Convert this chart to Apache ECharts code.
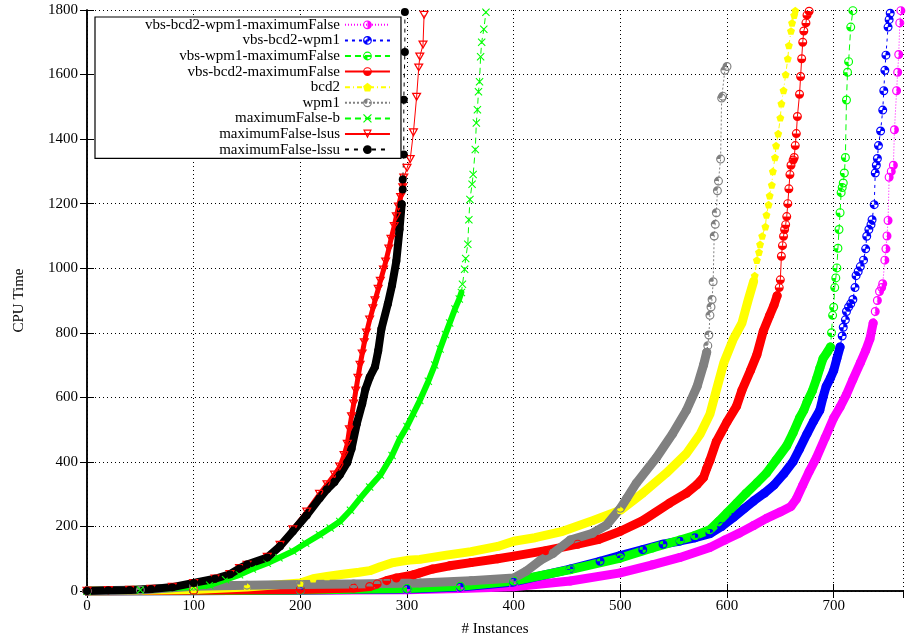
<!DOCTYPE html>
<html>
<head>
<meta charset="utf-8">
<script src="https://cdn.jsdelivr.net/npm/echarts@6/dist/echarts.min.js"></script>
<style>html,body{margin:0;padding:0;background:#fff;}#chart{width:906px;height:642px;}</style>
</head>
<body>
<div id="chart"></div>
<script>
// ---------- data (instance index, CPU time) ----------
const seriesNames = ['vbs-bcd2-wpm1-maximumFalse','vbs-bcd2-wpm1','vbs-wpm1-maximumFalse','vbs-bcd2-maximumFalse','bcd2','wpm1','maximumFalse-b','maximumFalse-lsus','maximumFalse-lssu'];
const xTicks = [0,100,200,300,400,500,600,700];
const yTicks = [0,200,400,600,800,1000,1200,1400,1600,1800];
const xMax = 765;

const magentaBody = [[0,0],[100,1],[200,2],[300,4],[350,8],[400,13],[453,31],[500,56],[530,81],[556,104],[584,135],[598,158],[612,180],[625,203],[637,225],[650,245],[660,262],[665,285],[671,328],[677,370],[684,414],[692,475],[700,536],[706,570],[712,609],[718,655],[725,707],[730,745],[734,781],[737,830]];
const magentaTail = [[739,866],[741,900],[743,928],[745,940],[746,952],[748,1025],[749,1060],[750,1100],[751,1148],[752,1282],[754,1300],[756,1319],[757,1429],[759,1550],[760,1607],[761,1662],[762,1760],[763,1798]];

const blueBody = [[0,0],[100,1],[200,3],[300,6],[350,12],[400,28],[453,68],[481,92],[500,110],[521,128],[540,145],[556,155],[570,165],[584,178],[595,200],[606,228],[616,255],[625,279],[635,303],[644,328],[653,362],[662,401],[668,440],[675,487],[681,525],[687,560],[690,600],[693,634],[697,660],[700,683],[703,720],[706,756]];
const blueTail = [[708,790],[709,817],[711,840],[712,866],[714,880],[716,890],[718,903],[720,940],[721,977],[723,990],[725,1005],[728,1025],[730,1060],[731,1099],[733,1120],[735,1135],[736,1150],[738,1197],[739,1295],[740,1319],[741,1340],[742,1380],[744,1425],[746,1490],[747,1550],[748,1613],[749,1660],[751,1747],[752,1770],[753,1790]];

const greenBody = [[0,0],[100,1],[200,3],[300,8],[350,15],[400,31],[453,66],[500,102],[530,133],[556,158],[570,172],[584,190],[592,215],[600,242],[609,272],[618,303],[628,335],[637,365],[646,405],[656,450],[662,490],[668,536],[672,560],[675,585],[680,620],[684,658],[687,690],[690,720],[694,740],[697,756]];
const greenTail = [[698,800],[699,854],[700,879],[701,940],[702,970],[703,1001],[704,1062],[705,1120],[706,1172],[707,1234],[708,1250],[709,1264],[710,1295],[711,1343],[712,1521],[713,1607],[714,1640],[716,1747],[718,1798]];

const redBody = [[0,0],[100,2],[200,5],[250,9],[265,14],[272,22],[281,32],[290,40],[306,50],[312,56],[324,68],[340,78],[360,88],[385,100],[400,108],[430,125],[460,145],[480,160],[500,185],[521,218],[546,272],[562,303],[572,330],[578,352],[581,380],[584,405],[590,463],[600,524],[609,573],[614,622],[622,683],[628,732],[634,805],[640,854],[644,885],[647,915]];
const redTail = [[649,940],[650,964],[651,1037],[652,1070],[653,1099],[654,1120],[655,1135],[656,1160],[657,1200],[658,1246],[659,1290],[660,1319],[662,1335],[663,1343],[664,1380],[665,1417],[666,1470],[668,1539],[669,1594],[670,1649],[671,1700],[672,1735],[674,1760],[675,1784],[677,1796]];

const yellowBody = [[0,0],[100,5],[150,12],[200,25],[212,38],[225,45],[240,52],[255,58],[265,63],[275,75],[287,88],[300,95],[312,98],[337,111],[360,122],[385,138],[400,154],[420,165],[446,185],[474,218],[500,250],[521,303],[543,365],[562,426],[575,487],[584,548],[590,622],[597,707],[606,781],[614,830],[620,903],[625,960]];
const yellowTail = [[626,977],[628,1025],[630,1050],[631,1074],[633,1100],[636,1129],[637,1165],[639,1197],[640,1225],[642,1258],[643,1300],[645,1343],[646,1380],[648,1417],[650,1466],[651,1510],[653,1551],[655,1600],[657,1649],[658,1690],[660,1735],[661,1760],[663,1784],[664,1798]];

const grayBody = [[0,0],[50,3],[100,15],[150,18],[200,20],[250,22],[312,25],[360,32],[400,40],[412,62],[425,95],[437,117],[453,158],[474,179],[487,204],[500,256],[506,287],[515,334],[534,414],[549,487],[562,560],[572,634],[578,700],[581,740]];
const grayTail = [[582,760],[583,793],[584,854],[585,880],[586,903],[587,958],[588,1100],[589,1136],[590,1172],[591,1240],[592,1270],[594,1338],[595,1527],[596,1533],[598,1613],[600,1625]];

const greenXBody = [[0,0],[50,3],[100,12],[115,18],[130,35],[143,50],[155,68],[169,86],[180,103],[193,123],[205,148],[218,174],[228,195],[237,215],[247,250],[256,287],[265,322],[275,359],[286,420],[293,470],[300,510],[306,550],[312,590],[320,650],[326,700],[331,750],[336,795],[340,830],[345,874],[349,905],[351,925]];
const greenXTail = [[352,950],[354,997],[355,1030],[357,1074],[358,1150],[359,1213],[361,1260],[362,1290],[364,1368],[365,1450],[366,1491],[367,1547],[368,1578],[369,1655],[370,1700],[372,1740],[374,1793]];

const redTriBody = [[0,0],[20,2],[40,3],[60,6],[80,12],[100,24],[120,38],[134,52],[143,70],[150,80],[169,105],[181,142],[193,190],[206,245],[218,300],[225,330],[232,360],[237,385],[241,420],[244,455],[246,500],[248,540],[250,580],[252,620],[254,660],[256,700],[258,735],[260,770],[262,800],[265,840],[268,875],[270,900],[273,935],[275,960],[278,995],[280,1020],[283,1060],[285,1090],[288,1130],[290,1160],[292,1190],[294,1220],[296,1250],[297,1280]];
const redTriTail = [[300,1310],[303,1337],[306,1420],[309,1530],[311,1621],[312,1655],[315,1692],[316,1784]];

const blackBody = [[0,0],[20,2],[40,3],[60,6],[80,12],[100,25],[120,38],[134,52],[143,70],[150,82],[169,104],[181,139],[193,185],[206,235],[218,287],[225,315],[232,338],[237,360],[244,398],[248,441],[253,519],[258,580],[261,625],[265,662],[270,695],[273,744],[276,812],[282,889],[286,948],[290,1022],[293,1121],[295,1198]];
const blackTail = [[296,1244],[296,1275],[297,1352],[297,1522],[298,1670],[298,1794]];

// ---------- styles ----------
const FONT = '"Liberation Serif", "DejaVu Serif", serif';
const RING = 'M10,0 A10,10 0 1,1 10,20 A10,10 0 1,1 10,0 Z M10,2.6 A7.4,7.4 0 1,0 10,17.4 A7.4,7.4 0 1,0 10,2.6 Z ';
const symRightHalf = 'path://' + RING + 'M10,2.6 A7.4,7.4 0 0,1 10,17.4 Z';
const symDiag = 'path://' + RING + 'M10,10 L10,2.6 A7.4,7.4 0 0,1 17.4,10 Z M10,10 L10,17.4 A7.4,7.4 0 0,1 2.6,10 Z';
const symBL = 'path://' + RING + 'M10,10 L10,17.4 A7.4,7.4 0 0,1 2.6,10 Z';
const symBottom = 'path://' + RING + 'M2.6,10 A7.4,7.4 0 0,0 17.4,10 Z';
const symTL = 'path://' + RING + 'M10,10 L2.6,10 A7.4,7.4 0 0,1 10,2.6 Z';
const symPent = 'path://M10,0 L19.5,6.9 L15.9,18.1 L4.1,18.1 L0.5,6.9 Z';
const symX = 'path://M0,1.5 L1.5,0 L8,6.5 L14.5,0 L16,1.5 L9.5,8 L16,14.5 L14.5,16 L8,9.5 L1.5,16 L0,14.5 L6.5,8 Z';
const symTri = 'path://M0,0 L20,0 L10,17.32 Z M4.33,2.5 L10,12.32 L15.67,2.5 Z';

const defs = [
  {body: magentaBody, tail: magentaTail, color: '#ff00ff', dash: [1,2], sym: symRightHalf, size: 9, band: 9},
  {body: blueBody, tail: blueTail, color: '#0000ff', dash: [3,4], sym: symDiag, size: 9, band: 9},
  {body: greenBody, tail: greenTail, color: '#00ff00', dash: [6,4], sym: symBL, size: 9, band: 9},
  {body: redBody, tail: redTail, color: '#ff0000', dash: 'solid', sym: symBottom, size: 9, band: 9},
  {body: yellowBody, tail: yellowTail, color: '#ffff00', dash: [5,3,1,3], sym: symPent, size: 8, band: 9},
  {body: grayBody, tail: grayTail, color: '#808080', dash: [2,2], sym: symTL, size: 9, band: 9},
  {body: greenXBody, tail: greenXTail, color: '#00ff00', dash: [6,4], sym: symX, size: 8, band: 6},
  {body: redTriBody, tail: redTriTail, color: '#ff0000', dash: 'solid', sym: symTri, size: 10, band: 5},
  {body: blackBody, tail: blackTail, color: '#000000', dash: [4,5], sym: 'circle', size: 8, band: 8}
];

const series = [];
defs.forEach((d, i) => {
  series.push({
    name: 'band' + i, type: 'line', data: d.body, symbol: 'none', silent: true,
    lineStyle: {color: d.color, width: d.band, cap: 'round', join: 'round'},
    emphasis: {disabled: true}, animation: false
  });
  series.push({
    name: seriesNames[i], type: 'line', data: d.body.concat(d.tail),
    symbol: d.sym, symbolSize: d.size, symbolKeepAspect: true, showAllSymbol: true,
    itemStyle: {color: d.color, borderWidth: 0},
    lineStyle: {color: d.color, width: 1, type: d.dash},
    emphasis: {disabled: true}, animation: false
  });
});

const axisLineStyle = {lineStyle: {color: '#000', width: 1.5}};
const chart = echarts.init(document.getElementById('chart'), null, {renderer: 'canvas'});
chart.setOption({
  backgroundColor: '#fff',
  animation: false,
  grid: {left: 87, right: 3, top: 10, bottom: 49},
  xAxis: [
    {type: 'value', min: 0, max: xMax, interval: 100, position: 'bottom',
     name: '# Instances', nameLocation: 'middle', nameGap: 31,
     nameTextStyle: {fontFamily: FONT, fontSize: 15, color: '#000'},
     axisLine: axisLineStyle,
     axisTick: {inside: true, length: 7, lineStyle: {color: '#000', width: 1}},
     axisLabel: {fontFamily: FONT, fontSize: 15, color: '#000', margin: 8, showMaxLabel: false,
       formatter: v => xTicks.indexOf(v) >= 0 ? String(v) : ''},
     splitLine: {show: true, lineStyle: {color: '#000', width: 1, type: [1, 3]}}},
    {type: 'value', min: 0, max: xMax, interval: 100, position: 'top',
     axisLine: axisLineStyle,
     axisTick: {inside: true, length: 7, lineStyle: {color: '#000', width: 1}},
     axisLabel: {show: false}, splitLine: {show: false}}
  ],
  yAxis: [
    {type: 'value', min: 0, max: 1800, interval: 200, position: 'left',
     name: 'CPU Time', nameLocation: 'middle', nameGap: 60, nameRotate: 90,
     nameTextStyle: {fontFamily: FONT, fontSize: 15, color: '#000'},
     axisLine: axisLineStyle,
     axisTick: {inside: true, length: 7, lineStyle: {color: '#000', width: 1}},
     axisLabel: {fontFamily: FONT, fontSize: 15, color: '#000', margin: 9,
       formatter: v => yTicks.indexOf(v) >= 0 ? String(v) : ''},
     splitLine: {show: true, lineStyle: {color: '#000', width: 1, type: [1, 3]}}},
    {type: 'value', min: 0, max: 1800, interval: 200, position: 'right',
     axisLine: axisLineStyle,
     axisTick: {inside: true, length: 7, lineStyle: {color: '#000', width: 1}},
     axisLabel: {show: false}, splitLine: {show: false}}
  ],
  legend: {
    data: seriesNames,
    orient: 'vertical', align: 'right',
    left: 95, top: 17,
    padding: [0, 10, 1, 50],
    itemWidth: 45, itemHeight: 11, itemGap: 0,
    backgroundColor: '#fff', borderColor: '#000', borderWidth: 1.2, borderRadius: 0,
    selectedMode: false,
    textStyle: {fontFamily: FONT, fontSize: 15, color: '#000', lineHeight: 15.6}
  },
  series: series
});
</script>
</body>
</html>
